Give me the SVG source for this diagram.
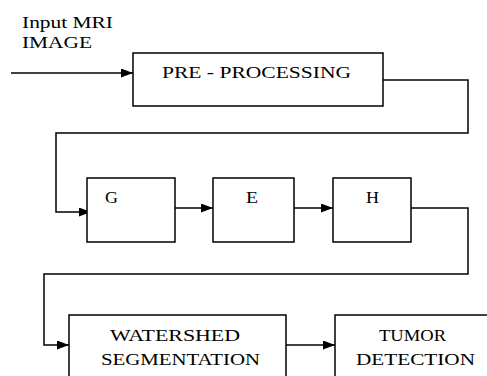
<svg xmlns="http://www.w3.org/2000/svg" width="487" height="376" viewBox="0 0 487 376">
<style>
.box{fill:#fff;stroke:#000;stroke-width:1.5}
.ln{fill:none;stroke:#000;stroke-width:1.5}
text{font-family:"Liberation Serif","Times New Roman",serif;font-size:16px;fill:#000}
</style>
<defs>
<marker id="ah" markerWidth="12" markerHeight="9" refX="12" refY="4.5" orient="auto" markerUnits="userSpaceOnUse">
<path d="M0,0 L12,4.5 L0,9 Z" fill="#000"/>
</marker>
</defs>
<rect width="487" height="376" fill="#fff"/>
<g id="connectors">
<path class="ln" d="M11,73 H133" marker-end="url(#ah)"/>
<path class="ln" d="M383,80 H468 V133 H56 V212 H91" marker-end="url(#ah)"/>
<path class="ln" d="M172,208 H213" marker-end="url(#ah)"/>
<path class="ln" d="M294,208 H333" marker-end="url(#ah)"/>
<path class="ln" d="M411,208 H468 V274 H44 V345 H69" marker-end="url(#ah)"/>
<path class="ln" d="M286,345 H335" marker-end="url(#ah)"/>
</g>
<g id="input-label">
<text x="22" y="28" textLength="91" lengthAdjust="spacingAndGlyphs">Input MRI</text>
<text x="22" y="48" textLength="70" lengthAdjust="spacingAndGlyphs">IMAGE</text>
</g>
<g id="preprocessing">
<rect class="box" x="133" y="53" width="250" height="53"/>
<text x="162" y="78" textLength="189" lengthAdjust="spacingAndGlyphs">PRE - PROCESSING</text>
</g>
<g id="G">
<rect class="box" x="87" y="178" width="88" height="64"/>
<text x="105" y="203" textLength="13" lengthAdjust="spacingAndGlyphs">G</text>
</g>
<g id="E">
<rect class="box" x="213" y="178" width="81" height="64"/>
<text x="246" y="203" textLength="12" lengthAdjust="spacingAndGlyphs">E</text>
</g>
<g id="H">
<rect class="box" x="333" y="178" width="78" height="64"/>
<text x="366" y="203" textLength="13" lengthAdjust="spacingAndGlyphs">H</text>
</g>
<g id="watershed">
<rect class="box" x="69" y="315" width="217" height="70"/>
<text x="110" y="341" textLength="130" lengthAdjust="spacingAndGlyphs">WATERSHED</text>
<text x="101" y="365" textLength="159" lengthAdjust="spacingAndGlyphs">SEGMENTATION</text>
</g>
<g id="tumor">
<rect class="box" x="335" y="315" width="160" height="70"/>
<text x="379" y="341" textLength="67" lengthAdjust="spacingAndGlyphs">TUMOR</text>
<text x="356" y="365" textLength="119" lengthAdjust="spacingAndGlyphs">DETECTION</text>
</g>
</svg>
